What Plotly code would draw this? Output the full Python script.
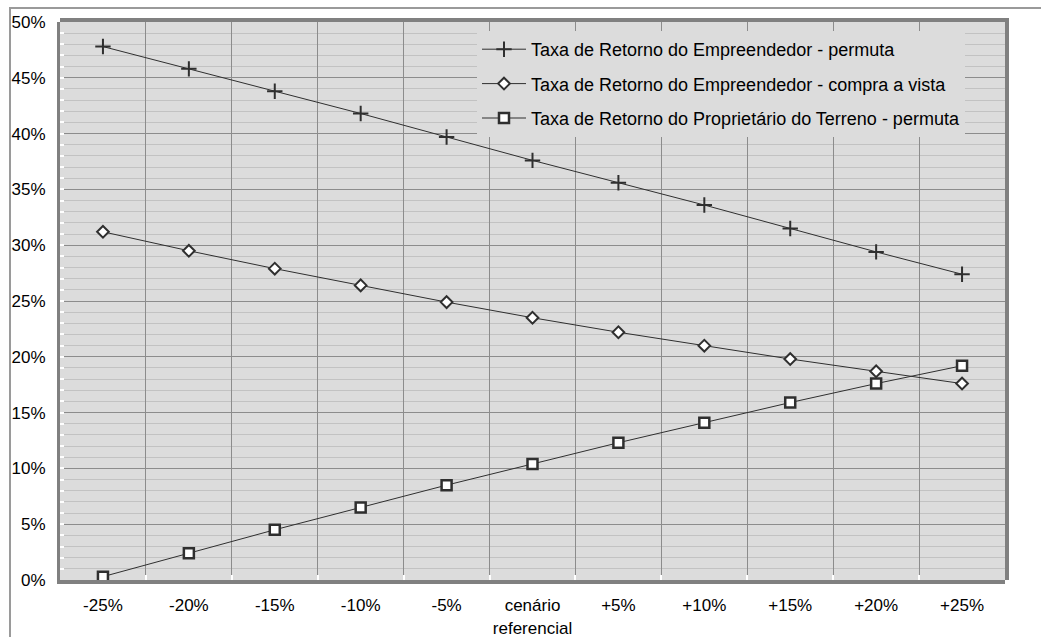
import plotly.graph_objects as go

categories = ["-25%", "-20%", "-15%", "-10%", "-5%", "cenário<br>referencial",
              "+5%", "+10%", "+15%", "+20%", "+25%"]
emp_permuta = [47.8, 45.8, 43.8, 41.8, 39.7, 37.6, 35.6, 33.6, 31.5, 29.4, 27.4]
emp_vista = [31.2, 29.5, 27.9, 26.4, 24.9, 23.5, 22.2, 21.0, 19.8, 18.7, 17.6]
prop_permuta = [0.3, 2.4, 4.5, 6.5, 8.5, 10.4, 12.3, 14.1, 15.9, 17.6, 19.2]
names = ["Taxa de Retorno do Empreendedor - permuta",
         "Taxa de Retorno do Empreendedor - compra a vista",
         "Taxa de Retorno do Proprietário do Terreno - permuta"]
y_ticks = list(range(0, 51, 5))

W, H = 1041, 637
L, R, T, B = 60, 36, 22, 57
pw, ph = W - L - R, H - T - B

def px(x):
    return (x - L) / pw

def py(y):
    return (H - B - y) / ph

FONT = "Liberation Sans, Arial, sans-serif"
DARK = "#2f2f2f"

fig = go.Figure()
fig.add_trace(go.Scatter(
    x=categories, y=emp_permuta, name=names[0], mode="lines+markers",
    line=dict(color=DARK, width=1),
    marker=dict(symbol="cross-thin", size=11, line=dict(color=DARK, width=2)),
    legendgroup="a"))
fig.add_trace(go.Scatter(
    x=categories, y=emp_vista, name=names[1], mode="lines+markers",
    line=dict(color=DARK, width=1),
    marker=dict(symbol="diamond", size=9, color="white", line=dict(color=DARK, width=2)),
    legendgroup="b"))
fig.add_trace(go.Scatter(
    x=categories, y=prop_permuta, name=names[2], mode="lines+markers",
    line=dict(color=DARK, width=1),
    marker=dict(symbol="square", size=10, color="white", line=dict(color=DARK, width=2.5)),
    legendgroup="c"))

shapes = [
    # outer frame
    dict(type="rect", xref="paper", yref="paper",
         x0=px(10), x1=px(W + 20), y0=py(H + 20), y1=py(8),
         line=dict(color="#9a9a9a", width=2), fillcolor="rgba(0,0,0,0)", layer="below"),
    # top thick border
    dict(type="line", xref="paper", yref="paper",
         x0=px(L), x1=px(L + pw + 4), y0=py(T - 2), y1=py(T - 2),
         line=dict(color="#808080", width=4)),
    # right thick border
    dict(type="line", xref="paper", yref="paper",
         x0=px(L + pw + 2), x1=px(L + pw + 2), y0=py(T - 4), y1=py(H - B),
         line=dict(color="#808080", width=4)),
]

fig.update_layout(
    width=W, height=H,
    margin=dict(l=L, r=R, t=T, b=B, autoexpand=False),
    paper_bgcolor="white",
    plot_bgcolor="#dcdcdc",
    font=dict(family=FONT, size=17, color="black"),
    showlegend=True,
    legend=dict(
        x=px(477), y=py(31), xanchor="left", yanchor="top",
        bgcolor="#dcdcdc", borderwidth=0,
        font=dict(family=FONT, size=18, color="black"),
        traceorder="grouped", tracegroupgap=8,
        itemwidth=44,
    ),
    xaxis=dict(
        type="category", tickson="boundaries",
        showgrid=True, gridcolor="#8c8c8c", gridwidth=1,
        showline=True, linecolor="#808080", linewidth=4,
        ticks="inside", ticklen=5, tickcolor="white", tickwidth=2,
        tickfont=dict(family=FONT, size=17, color="black"),
        tickangle=0, automargin=False,
        ticklabelstandoff=7,
        range=[-0.5, 10.5], fixedrange=True,
    ),
    yaxis=dict(
        range=[0, 50], tickvals=y_ticks, ticktext=[f"{v}%" for v in y_ticks],
        showgrid=True, gridcolor="#8c8c8c", gridwidth=1,
        zeroline=False, automargin=False,
        showline=True, linecolor="#808080", linewidth=3,
        ticks="inside", ticklen=4, tickcolor="white", tickwidth=2,
        minor=dict(dtick=1, showgrid=True, gridcolor="#c2c2c2", gridwidth=1,
                   ticks="inside", ticklen=4, tickcolor="white", tickwidth=2),
        tickfont=dict(family=FONT, size=17, color="black"),
        ticklabelstandoff=8,
        fixedrange=True,
    ),
    shapes=shapes,
)

fig.write_html("out.html")
